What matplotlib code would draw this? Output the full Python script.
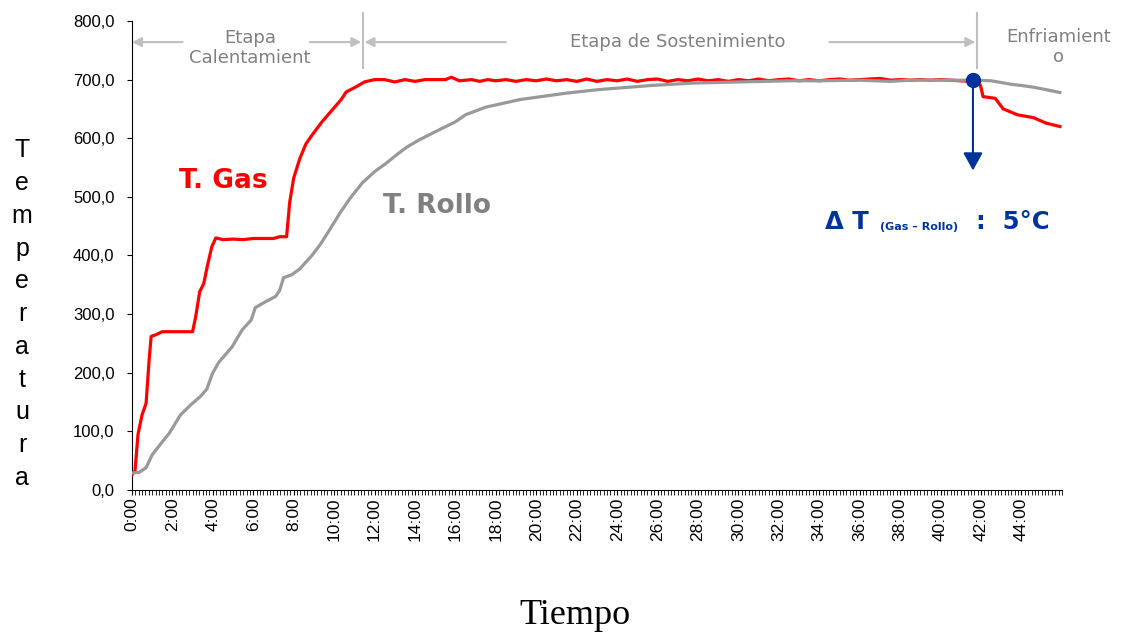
import matplotlib
matplotlib.use("Agg")
import matplotlib.pyplot as plt
from matplotlib.ticker import FixedLocator, MultipleLocator

# Temperature log (time in minutes, values in degC)
gas_t = [0, 0.15, 0.3, 0.5, 0.7, 0.85, 0.95, 1.2, 1.5, 2.5, 3.0, 3.15, 3.35, 3.55,
         3.75, 3.95, 4.15, 4.5, 5.0, 5.5, 6.0, 6.5, 7.0, 7.3, 7.65, 7.8, 8.0, 8.3,
         8.6, 8.9, 9.4, 9.9, 10.35, 10.6, 11.1, 11.5, 12.0, 12.5, 13.0, 13.5, 14.0,
         14.5, 15.5, 15.8, 16.2, 16.8, 17.2, 17.6, 18.0, 18.5, 19.0, 19.5, 20.0,
         20.5, 21.0, 21.5, 22.0, 22.5, 23.0, 23.5, 24.0, 24.5, 25.0, 25.5, 26.0,
         26.5, 27.0, 27.5, 28.0, 28.5, 29.0, 29.5, 30.0, 30.5, 31.0, 31.5, 32.0,
         32.5, 33.0, 33.5, 34.0, 34.5, 35.0, 35.5, 36.0, 36.5, 37.0, 37.5, 38.0,
         38.5, 39.0, 39.5, 40.0, 40.5, 41.0, 41.5, 41.9, 42.0, 42.1, 42.7, 43.1,
         43.8, 44.6, 45.2, 45.9]
gas_v = [26, 32, 95, 128, 148, 222, 262, 265, 270, 270, 270, 295, 338, 352,
         385, 415, 430, 427, 428, 427, 429, 429, 429, 432, 432, 490, 532, 565,
         590, 605, 628, 648, 666, 679, 688, 696, 700, 700, 696, 700, 697,
         700, 700, 704, 698, 700, 697, 700, 698, 700, 697, 700, 698,
         701, 698, 700, 697, 701, 697, 700, 698, 701, 697, 700, 701,
         697, 700, 698, 701, 698, 700, 697, 700, 698, 701, 698, 700,
         701, 698, 700, 698, 700, 701, 699, 700, 701, 702, 699, 700,
         699, 700, 699, 700, 699, 698, 697, 697, 686, 671, 668, 650,
         640, 635, 626, 620]

rollo_t = [0, 0.35, 0.7, 1.0, 1.5, 1.85, 2.4, 2.9, 3.4, 3.7, 4.0, 4.3, 4.95, 5.45,
           5.9, 6.1, 6.6, 7.1, 7.3, 7.5, 7.9, 8.3, 8.9, 9.3, 9.8, 10.3, 10.8, 11.4,
           12.0, 12.6, 13.1, 13.6, 14.2, 15.0, 16.0, 16.5, 17.5, 19.2, 21.5, 23.1,
           25.7, 27.7, 30.0, 32.5, 34.0, 36.0, 37.5, 38.5, 40.0, 41.7, 42.5, 43.0,
           43.5, 44.0, 44.6, 45.2, 45.9]
rollo_v = [29, 30, 38, 60, 82, 97, 128, 145, 160, 172, 200, 218, 244, 273,
           290, 311, 321, 330, 340, 362, 367, 377, 400, 418, 445, 473, 498, 524,
           543, 558, 572, 585, 597, 611, 628, 640, 653, 666, 677, 683,
           690, 694, 696, 698, 698, 699, 697, 699, 699, 699, 698, 695,
           692, 690, 687, 683, 678]

x_ticks = list(range(0, 46, 2))
x_labels = [f"{m}:00" for m in x_ticks]
y_ticks = list(range(0, 801, 100))
y_labels = [f"{v:.1f}".replace(".", ",") for v in y_ticks]

stage_bounds = [11.43, 41.8]
delta_t = 41.6

fig = plt.figure(figsize=(11.23, 6.36), dpi=100)
ax = fig.add_axes([0.1175, 0.2296, 0.8281, 0.7374])

ax.plot(gas_t, gas_v, color="#ff0000", lw=2.3, zorder=3)
ax.plot(rollo_t, rollo_v, color="#999999", lw=2.3, zorder=4)

ax.set_xlim(0, 46)
ax.set_ylim(0, 800)
ax.spines["top"].set_visible(False)
ax.spines["right"].set_visible(False)

ax.xaxis.set_major_locator(FixedLocator(x_ticks))
ax.xaxis.set_minor_locator(MultipleLocator(1 / 6))
ax.set_xticklabels(x_labels, rotation=90, family="Liberation Sans", fontsize=12.5)
ax.tick_params(axis="x", which="both", direction="out", length=3.5, pad=2)
ax.set_yticks(y_ticks)
ax.set_yticklabels(y_labels, family="Liberation Sans", fontsize=12)
ax.tick_params(axis="y", direction="out", length=3.5, pad=9)

# stage separators and arrows
gray = "#c0c0c0"
for b in stage_bounds:
    ax.plot([b, b], [720, 814], color=gray, lw=1.5, clip_on=False)

arrow_y = 764
for start, end in [(2.5, 0), (8.8, 11.35), (18.5, 11.5), (34.5, 41.72)]:
    ax.annotate("", xy=(end, arrow_y), xytext=(start, arrow_y),
                arrowprops=dict(arrowstyle="-|>", color=gray, lw=1.5,
                                mutation_scale=14, shrinkA=0, shrinkB=0),
                annotation_clip=False)

stage_kw = dict(color="#808080", fontsize=13, ha="center", va="center",
                linespacing=1.15, clip_on=False)
ax.text(5.84, 754, "Etapa\nCalentamient", **stage_kw)
ax.text(27.0, 764, "Etapa de Sostenimiento", **stage_kw)
ax.text(45.85, 756, "Enfriamient\no", **stage_kw)

ax.text(2.33, 527, "T. Gas", color="#ff0000", fontsize=19, fontweight="bold",
        va="center", ha="left")
ax.text(12.4, 485, "T. Rollo", color="#808080", fontsize=19, fontweight="bold",
        va="center", ha="left")

# delta T marker
blue = "#003399"
ax.annotate("", xy=(delta_t, 545), xytext=(delta_t, 700),
            arrowprops=dict(arrowstyle="-|>,head_length=0.4,head_width=0.22",
                            color=blue, lw=1.5, mutation_scale=27,
                            shrinkA=0, shrinkB=0))
ax.plot([delta_t], [700], "o", color=blue, ms=10, zorder=6)
ax.text(34.3, 445, "Δ T", color=blue, fontsize=17.5, fontweight="bold",
        ha="left", va="baseline")
ax.text(37.0, 443, "(Gas – Rollo)", color=blue, fontsize=8, fontweight="bold",
        ha="left", va="baseline")
ax.text(41.75, 445, ":  5°C", color=blue, fontsize=17.5, fontweight="bold",
        ha="left", va="baseline", clip_on=False)

fig.text(0.0196, 0.506, "\n".join("Temperatura"), family="Liberation Sans",
         fontsize=18, ha="center", va="center", linespacing=1.46)
fig.text(0.512, 0.033, "Tiempo", family="Liberation Serif", fontsize=26,
         ha="center", va="center")

fig.savefig("out.png", dpi=100)
